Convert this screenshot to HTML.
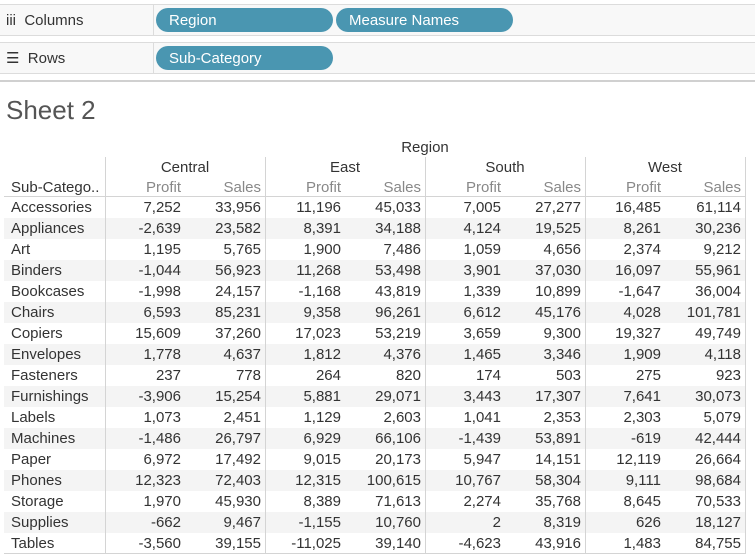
<!DOCTYPE html>
<html><head><meta charset="utf-8"><style>
body{margin:0;width:755px;height:556px;background:#fff;font-family:"Liberation Sans",sans-serif;position:relative;overflow:hidden}
.abs{position:absolute}
.shelf{left:0;width:755px;height:30px;background:#f8f8f8;border-top:1px solid #dcdcdc;border-bottom:1px solid #dcdcdc}
.lab{font-size:15px;color:#333;line-height:31px;left:6px}
.pill{background:#4a96b1;color:#fff;border-radius:12px;height:24px;line-height:26px;font-size:15px;padding-left:13px;box-sizing:border-box}
.t{font-size:15px;color:#333;white-space:nowrap}
.r{text-align:right}
.m{color:#888}
</style></head><body>
<div class="abs shelf" style="top:4px"></div>
<div class="abs" style="left:153px;top:5px;width:1px;height:30px;background:#dcdcdc"></div>
<div class="abs lab" style="top:5px">iii&nbsp; Columns</div>
<div class="abs pill" style="left:156px;top:8px;width:177px">Region</div>
<div class="abs pill" style="left:336px;top:8px;width:177px">Measure Names</div>
<div class="abs shelf" style="top:42px"></div>
<div class="abs" style="left:153px;top:43px;width:1px;height:30px;background:#dcdcdc"></div>
<div class="abs lab" style="top:43px">☰&nbsp; Rows</div>
<div class="abs pill" style="left:156px;top:46px;width:177px">Sub-Category</div>
<div class="abs" style="left:0;top:80px;width:755px;height:2px;background:#d0d0d0"></div>
<div class="abs" style="left:6px;top:95px;font-size:26px;color:#555">Sheet 2</div>
<div id="tbl"></div>
<script>
const subcats=["Accessories","Appliances","Art","Binders","Bookcases","Chairs","Copiers","Envelopes","Fasteners","Furnishings","Labels","Machines","Paper","Phones","Storage","Supplies","Tables"];
const regions=["Central","East","South","West"];
const centralProfit=[7252,-2639,1195,-1044,-1998,6593,15609,1778,237,-3906,1073,-1486,6972,12323,1970,-662,-3560];
const centralSales=[33956,23582,5765,56923,24157,85231,37260,4637,778,15254,2451,26797,17492,72403,45930,9467,39155];
const eastProfit=[11196,8391,1900,11268,-1168,9358,17023,1812,264,5881,1129,6929,9015,12315,8389,-1155,-11025];
const eastSales=[45033,34188,7486,53498,43819,96261,53219,4376,820,29071,2603,66106,20173,100615,71613,10760,39140];
const southProfit=[7005,4124,1059,3901,1339,6612,3659,1465,174,3443,1041,-1439,5947,10767,2274,2,-4623];
const southSales=[27277,19525,4656,37030,10899,45176,9300,3346,503,17307,2353,53891,14151,58304,35768,8319,43916];
const westProfit=[16485,8261,2374,16097,-1647,4028,19327,1909,275,7641,2303,-619,12119,9111,8645,626,1483];
const westSales=[61114,30236,9212,55961,36004,101781,49749,4118,923,30073,5079,42444,26664,98684,70533,18127,84755];
const profits=[centralProfit,eastProfit,southProfit,westProfit];
const sales=[centralSales,eastSales,southSales,westSales];
const T=document.getElementById('tbl');
function add(html,css,name){const d=document.createElement('div');d.className='abs '+(css.c||'');d.style.cssText=css.s;d.textContent=html;


T.appendChild(d);return d;}
const fmt=v=>(v<0?'-':'')+Math.abs(v).toLocaleString('en-US');
const y0=197,rh=21,colX=105,colW=160;
subcats.forEach((s,i)=>{
 if(i%2==1) add('',{s:`left:4px;top:${y0+i*rh}px;width:741px;height:${rh}px;background:#f4f4f4`},'row-band');
});
for(let k=0;k<=4;k++){add('',{s:`left:${colX+k*colW}px;top:157px;width:1px;height:${554-157}px;background:#d4d4d4`},'column-divider');}
add('',{s:`left:4px;top:196px;width:741px;height:1px;background:#d4d4d4`},'header-rule');
add('',{s:`left:4px;top:553px;width:741px;height:1px;background:#d4d4d4`},'bottom-rule');
add('Region',{c:'t',s:`left:${colX}px;width:${4*colW}px;top:139px;text-align:center`},'region-header');
add('Sub-Catego..',{c:'t',s:`left:11px;top:179px`},'sub-category-header');
regions.forEach((r,k)=>{
 const x=colX+k*colW;
 add(r,{c:'t',s:`left:${x}px;width:${colW}px;top:159px;text-align:center`},'region-'+r.toLowerCase());
 add('Profit',{c:'t r m',s:`left:${x}px;width:76px;top:179px`},'profit-header');
 add('Sales',{c:'t r m',s:`left:${x}px;width:156px;top:179px`},'sales-header');
});
subcats.forEach((s,i)=>{
 const y=y0+i*rh+2;
 add(s,{c:'t',s:`left:11px;top:${y}px`},'row-label');
 regions.forEach((r,k)=>{
  const x=colX+k*colW;
  add(fmt(profits[k][i]),{c:'t r',s:`left:${x}px;width:76px;top:${y}px`},'profit-cell');
  add(fmt(sales[k][i]),{c:'t r',s:`left:${x}px;width:156px;top:${y}px`},'sales-cell');
 });
});
</script>
</body></html>
